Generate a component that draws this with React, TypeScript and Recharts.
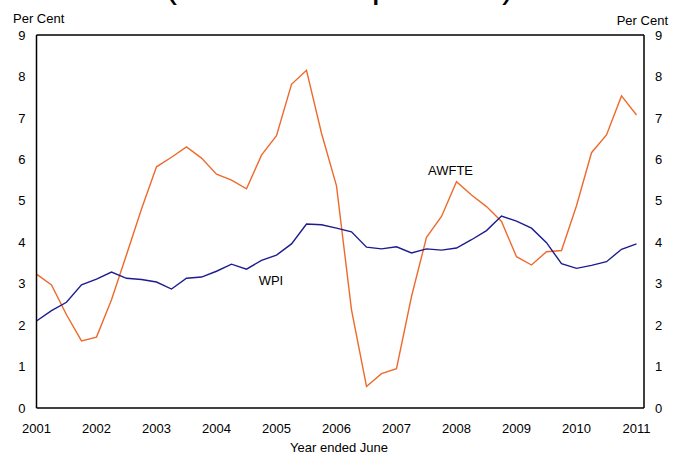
import React from "react";
import { LineChart, Line, XAxis, YAxis, ReferenceLine, ReferenceDot } from "recharts";

// Quarterly observations, year ended June 2001 .. June 2011 (index 0 = Jun 2001)
const quarters: number[] = Array.from({ length: 41 }, (_, i) => i);
const awfte: number[] = [
  3.23, 2.97, 2.25, 1.62, 1.71, 2.61, 3.7, 4.8, 5.82, 6.05, 6.3, 6.03, 5.64, 5.5, 5.29, 6.1,
  6.57, 7.81, 8.15, 6.63, 5.36, 2.37, 0.52, 0.83, 0.95, 2.69, 4.12, 4.62, 5.46, 5.14, 4.86,
  4.5, 3.65, 3.45, 3.77, 3.8, 4.88, 6.16, 6.59, 7.53, 7.07,
];
const wpi: number[] = [
  2.1, 2.35, 2.55, 2.97, 3.11, 3.28, 3.13, 3.1, 3.04, 2.87, 3.13, 3.16, 3.3, 3.47, 3.35, 3.56,
  3.69, 3.96, 4.44, 4.42, 4.34, 4.25, 3.88, 3.84, 3.89, 3.74, 3.84, 3.81, 3.86, 4.06, 4.28,
  4.63, 4.51, 4.34, 3.99, 3.48, 3.37, 3.44, 3.53, 3.83, 3.96,
];
const yearLabels: string[] = ["2001", "2002", "2003", "2004", "2005", "2006", "2007", "2008", "2009", "2010", "2011"];
const xTicks: number[] = yearLabels.map((_, i) => i * 4);
const yTicks: number[] = [0, 1, 2, 3, 4, 5, 6, 7, 8, 9];

const data = quarters.map((q, i) => ({ q, awfte: awfte[i], wpi: wpi[i] }));

const FONT = "'Liberation Sans', Arial, sans-serif";
const ORANGE = "#EE6A2C";
const BLUE = "#1C1C8E";

export default function App() {
  const tickStyle = { fontSize: 13, fill: "#000", fontFamily: FONT };
  return (
    <div style={{ position: "absolute", top: 0, left: 0, width: 680, height: 455, background: "#fff" }}>
      <LineChart
        width={680}
        height={455}
        data={data}
        margin={{ top: 35, right: 0, left: 0, bottom: 0 }}
      >
        <XAxis
          dataKey="q"
          type="number"
          domain={[0, 40.5]}
          ticks={xTicks}
          tickFormatter={(v: number) => yearLabels[v / 4]}
          tick={tickStyle}
          tickLine={false}
          tickMargin={10}
          axisLine={{ stroke: "#000", strokeWidth: 1.5 }}
          height={47}
          interval={0}
        />
        <YAxis
          yAxisId="left"
          domain={[0, 9]}
          ticks={yTicks}
          tick={tickStyle}
          tickLine={false}
          tickMargin={5}
          width={36.5}
          axisLine={{ stroke: "#000", strokeWidth: 1.5 }}
          interval={0}
        />
        <YAxis
          yAxisId="right"
          orientation="right"
          domain={[0, 9]}
          ticks={yTicks}
          tick={{ ...tickStyle, textAnchor: "start" }}
          tickLine={false}
          tickMargin={5}
          width={36}
          axisLine={{ stroke: "#000", strokeWidth: 1.5 }}
          interval={0}
        />
        <ReferenceLine yAxisId="left" y={9} stroke="#000" strokeWidth={1.5} ifOverflow="visible" />
        <Line
          yAxisId="left"
          dataKey="awfte"
          stroke={ORANGE}
          strokeWidth={1.4}
          dot={false}
          isAnimationActive={false}
          type="linear"
        />
        <Line
          yAxisId="right"
          dataKey="wpi"
          stroke={BLUE}
          strokeWidth={1.4}
          dot={false}
          isAnimationActive={false}
          type="linear"
        />
        <ReferenceDot
          yAxisId="left"
          x={27.6}
          y={5.73}
          r={0}
          fill="none"
          stroke="none"
          label={{ value: "AWFTE", position: "center", fill: "#000", fontSize: 13, fontFamily: FONT }}
        />
        <ReferenceDot
          yAxisId="left"
          x={15.63}
          y={3.07}
          r={0}
          fill="none"
          stroke="none"
          label={{ value: "WPI", position: "center", fill: "#000", fontSize: 13, fontFamily: FONT }}
        />
      </LineChart>
      <svg
        width={680}
        height={455}
        style={{ position: "absolute", top: 0, left: 0, pointerEvents: "none" }}
      >
        <text x={165} y={-3} fontSize={36} fontFamily={FONT} fill="#000">
          (Year-ended per cent)
        </text>
        <text x={13} y={23} fontSize={13} fontFamily={FONT} fill="#000">
          Per Cent
        </text>
        <text x={668} y={25} fontSize={13} fontFamily={FONT} fill="#000" textAnchor="end">
          Per Cent
        </text>
        <text x={339} y={452} fontSize={13} fontFamily={FONT} fill="#000" textAnchor="middle">
          Year ended June
        </text>
      </svg>
    </div>
  );
}
